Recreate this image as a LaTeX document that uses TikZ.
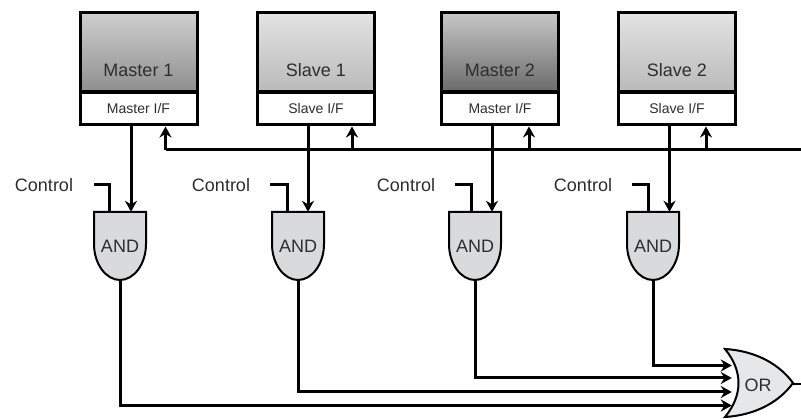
\documentclass[tikz,border=0pt]{standalone}
\usepackage{fontspec}
\setmainfont{Liberation Sans}
\usetikzlibrary{arrows.meta}
\definecolor{inkgray}{HTML}{2E2E30}
\definecolor{gatefill}{HTML}{D9DADC}
\definecolor{orfill}{HTML}{E6E7E8}
\begin{document}
\begin{tikzpicture}[x=1pt, y=-1pt, >={Stealth[length=11pt,width=12pt]}]
    % Stili
    \tikzstyle{unitbox}=[draw=black, line width=3pt, minimum width=117pt, minimum height=79pt, text height=50pt, text depth=0pt, inner sep=0pt, text=inkgray, font=\fontsize{18}{20}\selectfont]
    \tikzstyle{ifbox}=[draw=black, line width=3pt, fill=white, minimum width=117pt, minimum height=32pt, inner sep=0pt, text=inkgray, font=\fontsize{14}{16}\selectfont]
    \tikzstyle{gatelabel}=[minimum width=52pt, minimum height=68pt, inner sep=0pt, text=inkgray, font=\fontsize{18}{20}\selectfont]
    \tikzstyle{ctrllabel}=[inner sep=0pt, minimum width=58pt, text=inkgray, font=\fontsize{18}{20}\selectfont]
    \tikzstyle{gateshape}=[draw=black, line width=2pt, fill=gatefill]
    \tikzstyle{reference}=[->, line width=3pt, black]
    \tikzstyle{wire}=[line width=3pt, black]
    \useasboundingbox (0,0) rectangle (801,419);

    % Blocchi
    \node[unitbox, top color=black!19, middle color=black!26, bottom color=black!44] (master1) at (138.5,52) {Master 1};
    \node[ifbox] (master1if) at (138.5,109) {Master I/F};
    \node[unitbox, top color=black!11, middle color=black!14, bottom color=black!27] (slave1) at (316,52) {Slave 1};
    \node[ifbox] (slave1if) at (316,109) {Slave I/F};
    \node[unitbox, top color=black!22, middle color=black!32, bottom color=black!58] (master2) at (500,52) {Master 2};
    \node[ifbox] (master2if) at (500,109) {Master I/F};
    \node[unitbox, top color=black!11, middle color=black!14, bottom color=black!27] (slave2) at (677,52) {Slave 2};
    \node[ifbox] (slave2if) at (677,109) {Slave I/F};

    % Porte AND
    \draw[gateshape] (94,212) -- (146,212) -- (146,244) .. controls (146,264) and (134,280) .. (120,280) .. controls (106,280) and (94,264) .. (94,244) -- cycle;
    \draw[gateshape] (272,212) -- (324,212) -- (324,244) .. controls (324,264) and (312,280) .. (298,280) .. controls (284,280) and (272,264) .. (272,244) -- cycle;
    \draw[gateshape] (449,212) -- (501,212) -- (501,244) .. controls (501,264) and (489,280) .. (475,280) .. controls (461,280) and (449,264) .. (449,244) -- cycle;
    \draw[gateshape] (627,212) -- (679,212) -- (679,244) .. controls (679,264) and (667,280) .. (653,280) .. controls (639,280) and (627,264) .. (627,244) -- cycle;
    \node[gatelabel] (and1) at (120,246) {AND};
    \node[gatelabel] (and2) at (298,246) {AND};
    \node[gatelabel] (and3) at (475,246) {AND};
    \node[gatelabel] (and4) at (653,246) {AND};

    % Porta OR
    \draw[gateshape, fill=orfill] (725,349) .. controls (757,351) and (780,365) .. (793,383) .. controls (780,401) and (757,415) .. (725,417) .. controls (743,395) and (743,371) .. (725,349) -- cycle;
    \node[gatelabel, minimum width=52pt, minimum height=60pt] (orgate) at (758,385) {OR};

    % Etichette
    \node[ctrllabel] (ctrl1) at (44,185) {Control};
    \node[ctrllabel] (ctrl2) at (221,185) {Control};
    \node[ctrllabel] (ctrl3) at (406,185) {Control};
    \node[ctrllabel] (ctrl4) at (583,185) {Control};

    % Punti liberi
    \coordinate (busend) at (801,150);
    \coordinate (ortip) at (793,384);
    \coordinate (orend) at (801,384);

    % Bus
    \draw[wire] (busend) -- ([xshift=27pt]master1if.south |- busend);
    \draw[reference] ([xshift=27pt]master1if.south |- busend) -- ([xshift=27pt]master1if.south);
    \draw[reference] ([xshift=36pt]slave1if.south |- busend) -- ([xshift=36pt]slave1if.south);
    \draw[reference] ([xshift=29pt]master2if.south |- busend) -- ([xshift=29pt]master2if.south);
    \draw[reference] ([xshift=29pt]slave2if.south |- busend) -- ([xshift=29pt]slave2if.south);

    % Frecce verso le porte AND
    \draw[reference] ([xshift=-7.5pt]master1if.south) -- ([xshift=11pt]and1.north);
    \draw[reference] ([xshift=-8pt]slave1if.south) -- ([xshift=10pt]and2.north);
    \draw[reference] ([xshift=-8pt]master2if.south) -- ([xshift=17pt]and3.north);
    \draw[reference] ([xshift=-7.5pt]slave2if.south) -- ([xshift=16.5pt]and4.north);

    % Linee di controllo
    \draw[wire] ([xshift=21pt]ctrl1.east) -| ([xshift=-11pt]and1.north);
    \draw[wire] ([xshift=20pt]ctrl2.east) -| ([xshift=-11pt]and2.north);
    \draw[wire] ([xshift=20pt]ctrl3.east) -| ([xshift=-4pt]and3.north);
    \draw[wire] ([xshift=20pt]ctrl4.east) -| ([xshift=-5pt]and4.north);

    % Uscite verso la porta OR
    \draw[reference] (and1.south) |- ([yshift=-20.5pt]orgate.west);
    \draw[reference] (and2.south) |- ([yshift=-7pt]orgate.west);
    \draw[reference] (and3.south) |- ([yshift=7pt]orgate.west);
    \draw[reference] (and4.south) |- ([yshift=19.5pt]orgate.west);
    \draw[line width=2pt, black] (ortip) -- (orend);
\end{tikzpicture}
\end{document}
